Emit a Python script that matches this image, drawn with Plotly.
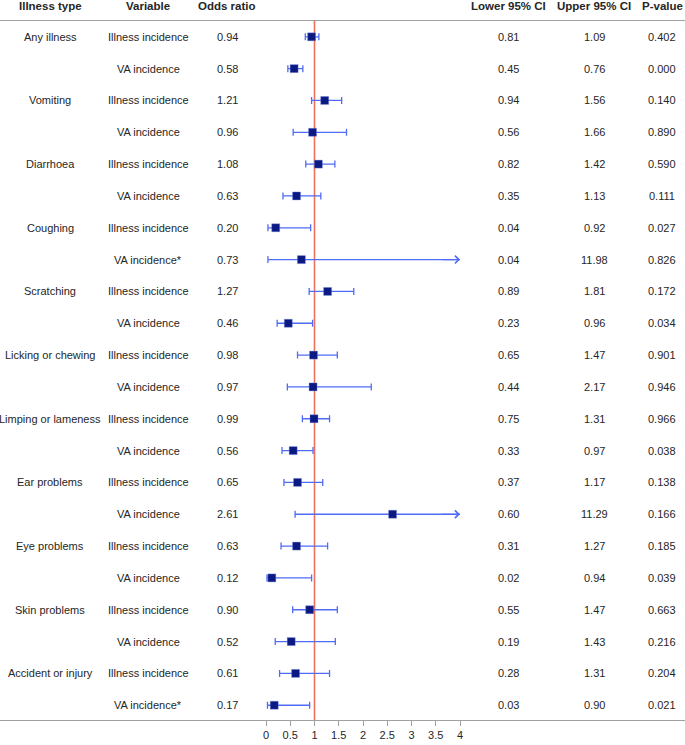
import plotly.graph_objects as go

illness_types = ["Any illness", "Vomiting", "Diarrhoea", "Coughing", "Scratching",
                 "Licking or chewing", "Limping or lameness", "Ear problems",
                 "Eye problems", "Skin problems", "Accident or injury"]
variables = ["Illness incidence", "VA incidence",
             "Illness incidence", "VA incidence",
             "Illness incidence", "VA incidence",
             "Illness incidence", "VA incidence*",
             "Illness incidence", "VA incidence",
             "Illness incidence", "VA incidence",
             "Illness incidence", "VA incidence",
             "Illness incidence", "VA incidence",
             "Illness incidence", "VA incidence",
             "Illness incidence", "VA incidence",
             "Illness incidence", "VA incidence*"]
odds_ratio = [0.94, 0.58, 1.21, 0.96, 1.08, 0.63, 0.20, 0.73, 1.27, 0.46, 0.98,
              0.97, 0.99, 0.56, 0.65, 2.61, 0.63, 0.12, 0.90, 0.52, 0.61, 0.17]
lower_ci = [0.81, 0.45, 0.94, 0.56, 0.82, 0.35, 0.04, 0.04, 0.89, 0.23, 0.65,
            0.44, 0.75, 0.33, 0.37, 0.60, 0.31, 0.02, 0.55, 0.19, 0.28, 0.03]
upper_ci = [1.09, 0.76, 1.56, 1.66, 1.42, 1.13, 0.92, 11.98, 1.81, 0.96, 1.47,
            2.17, 1.31, 0.97, 1.17, 11.29, 1.27, 0.94, 1.47, 1.43, 1.31, 0.90]
p_values = ["0.402", "0.000", "0.140", "0.890", "0.590", "0.111", "0.027", "0.826",
            "0.172", "0.034", "0.901", "0.946", "0.966", "0.038", "0.138", "0.166",
            "0.185", "0.039", "0.663", "0.216", "0.204", "0.021"]
tick_vals = [0, 0.5, 1, 1.5, 2, 2.5, 3, 3.5, 4]
tick_text = ["0", "0.5", "1", "1.5", "2", "2.5", "3", "3.5", "4"]
headers = ["Illness type", "Variable", "Odds ratio", "Lower 95% CI", "Upper 95% CI", "P-value"]

# ---- layout constants (pixels) ----
W, H = 685, 745
plot_bottom = 720
x0_px, px_per_unit = 266, 48.5
row_y0, row_dy = 36.8, 31.83
X_MAX = 4

def px_to_x(px):
    return (px - x0_px) / px_per_unit

def py_to_y(py):
    return (py - row_y0) / row_dy

FONT = "Liberation Sans, Arial, sans-serif"
TXT = "#262626"
GRID = "#a0a0a0"
BAR = "#4f6cf7"
MARK = "#0b1a82"
RED = "#f0705f"

n = len(odds_ratio)
rows = list(range(n))

fig = go.Figure()

# CI lines with caps (for CIs that end beyond the axis, only the lower cap)
plus = [(u - o) if u <= X_MAX else 0 for o, u in zip(odds_ratio, upper_ci)]
minus = [o - l for o, l in zip(odds_ratio, lower_ci)]

# arrow segments for truncated CIs
for o, u, r in zip(odds_ratio, upper_ci, rows):
    if u > X_MAX:
        fig.add_trace(go.Scatter(x=[o, X_MAX], y=[r, r], mode="lines",
                                 line=dict(color=BAR, width=1.3),
                                 hoverinfo="skip", showlegend=False))
        fig.add_annotation(x=X_MAX, y=r, ax=X_MAX - 0.4, ay=r, axref="x", ayref="y",
                           xref="x", yref="y", text="", showarrow=True,
                           arrowhead=4, arrowsize=1.25, arrowwidth=1.2,
                           arrowcolor=BAR, standoff=0)

fig.add_trace(go.Scatter(
    x=odds_ratio, y=rows, mode="markers",
    marker=dict(size=8, color=MARK, opacity=0),
    error_x=dict(type="data", symmetric=False, array=plus, arrayminus=minus,
                 color=BAR, thickness=1.3, width=3.5),
    hoverinfo="skip", showlegend=False))

# red reference line at OR = 1
fig.add_shape(type="line", x0=1, x1=1, y0=py_to_y(20.5), y1=py_to_y(plot_bottom),
              xref="x", yref="y", line=dict(color=RED, width=1.6), layer="below")

fig.add_trace(go.Scatter(
    x=odds_ratio, y=rows, mode="markers",
    marker=dict(size=8, color=MARK, symbol="square",
                line=dict(color="rgba(120,140,230,0.6)", width=0.6)),
    hoverinfo="skip", showlegend=False))

# header separator line
fig.add_shape(type="line", x0=0, x1=1, xref="paper", y0=py_to_y(20.5), y1=py_to_y(20.5),
              yref="y", line=dict(color=GRID, width=1))

col_px = [50, 148, 227, 508.5, 594, 662]
col_x = [px_to_x(p) for p in col_px]
header_y = py_to_y(6)
for h, cx in zip(headers, col_x):
    fig.add_annotation(x=cx, y=header_y, xref="x", yref="y", text="<b>%s</b>" % h,
                       showarrow=False, xanchor="center", yanchor="middle",
                       font=dict(family=FONT, size=11.5, color=TXT))

for i in rows:
    cells = [illness_types[i // 2] if i % 2 == 0 else "", variables[i],
             "%.2f" % odds_ratio[i], "%.2f" % lower_ci[i], "%.2f" % upper_ci[i], p_values[i]]
    for c, cx in zip(cells, col_x):
        if c:
            fig.add_annotation(x=cx, y=i, xref="x", yref="y", text=c,
                               showarrow=False, xanchor="center", yanchor="middle",
                               font=dict(family=FONT, size=11, color=TXT))

fig.update_layout(
    width=W, height=H,
    margin=dict(l=0, r=0, t=0, b=H - plot_bottom),
    paper_bgcolor="white", plot_bgcolor="white",
    showlegend=False,
    xaxis=dict(range=[px_to_x(0), px_to_x(W)], tickvals=tick_vals, ticktext=tick_text,
               showgrid=False, zeroline=False, showline=True, linecolor=GRID, linewidth=1,
               ticks="outside", ticklen=5, tickcolor=GRID,
               tickfont=dict(family=FONT, size=11, color=TXT), fixedrange=True),
    yaxis=dict(range=[py_to_y(plot_bottom), py_to_y(0)], visible=False, fixedrange=True),
)

fig.write_html("out.html", config={"displayModeBar": False},
               post_script="document.body.style.margin='0';")
